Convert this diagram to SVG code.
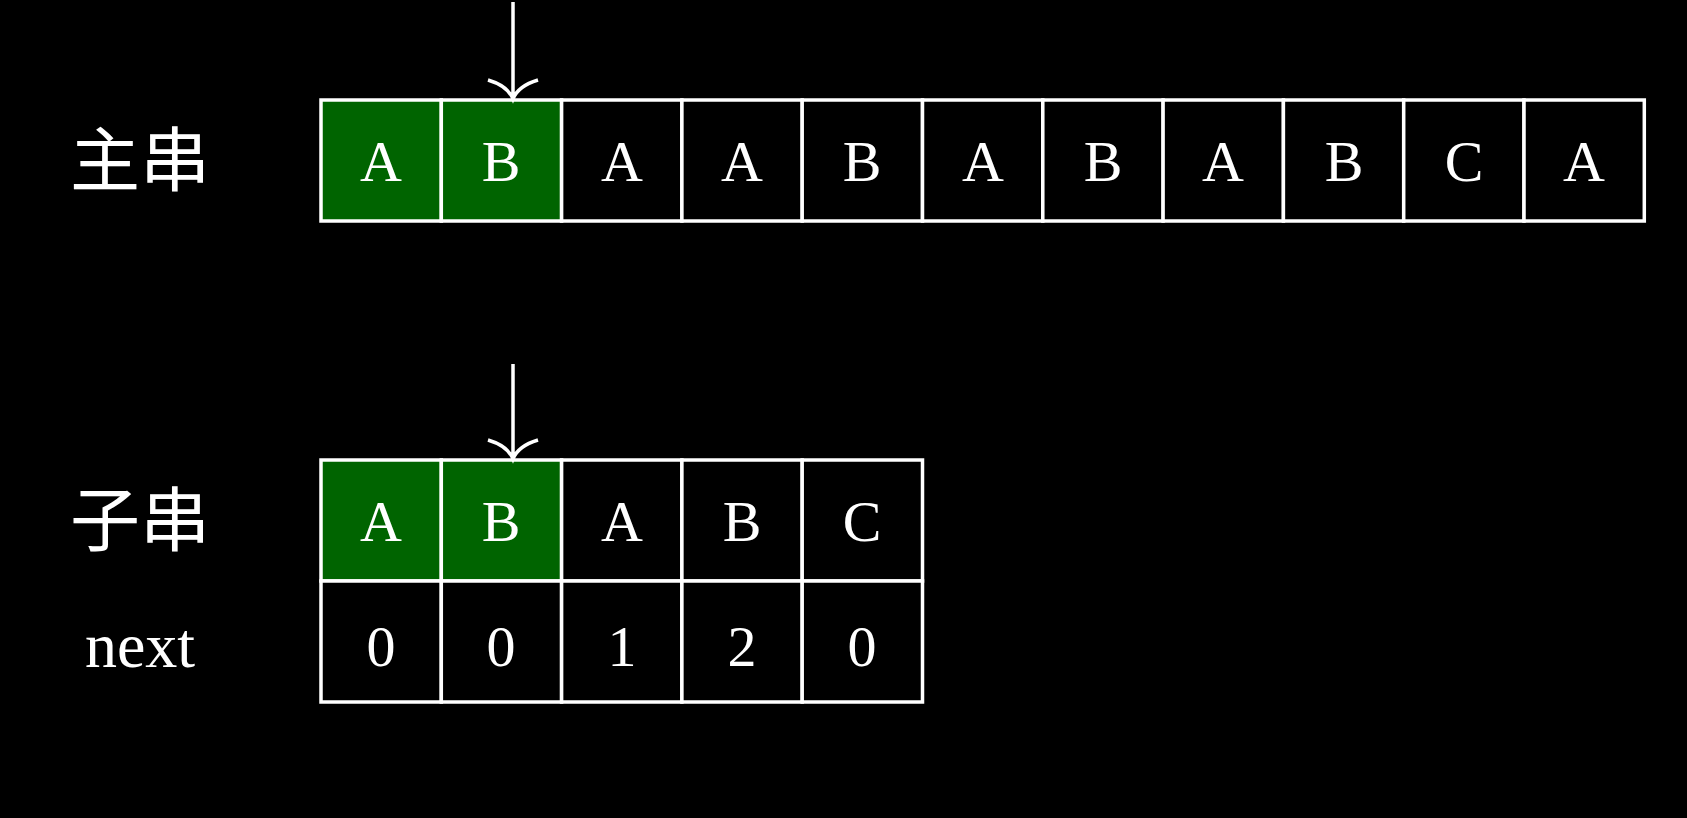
<svg xmlns="http://www.w3.org/2000/svg" width="1687" height="818" viewBox="0 0 1687 818">
<style>
.c{fill:#000;stroke:#fff;stroke-width:3.5}
.g{fill:#006400;stroke:#fff;stroke-width:3.5}
.t{fill:#fff;font-family:"Liberation Serif","DejaVu Serif",serif;font-size:58px;text-anchor:middle}
.l{fill:#fff;font-family:"Noto Sans CJK SC",sans-serif;font-size:70px;text-anchor:middle}
.a{stroke:#fff;stroke-width:3.5;fill:none}
</style>
<rect width="1687" height="818" fill="#000"/>
<g id="labels">
<text class="l" x="140" y="186">主串</text>
<text class="l" x="140" y="546">子串</text>
<text class="t" x="140" y="667" style="font-size:64px">next</text>
</g>
<g id="main">
<rect class="g" x="321" y="100" width="120.3" height="121"/><text class="t" x="381" y="181">A</text>
<rect class="g" x="441.3" y="100" width="120.3" height="121"/><text class="t" x="501" y="181">B</text>
<rect class="c" x="561.6" y="100" width="120.3" height="121"/><text class="t" x="622" y="181">A</text>
<rect class="c" x="681.9" y="100" width="120.3" height="121"/><text class="t" x="742" y="181">A</text>
<rect class="c" x="802.2" y="100" width="120.3" height="121"/><text class="t" x="862" y="181">B</text>
<rect class="c" x="922.5" y="100" width="120.3" height="121"/><text class="t" x="983" y="181">A</text>
<rect class="c" x="1042.8" y="100" width="120.3" height="121"/><text class="t" x="1103" y="181">B</text>
<rect class="c" x="1163.1" y="100" width="120.3" height="121"/><text class="t" x="1223" y="181">A</text>
<rect class="c" x="1283.4" y="100" width="120.3" height="121"/><text class="t" x="1344" y="181">B</text>
<rect class="c" x="1403.7" y="100" width="120.3" height="121"/><text class="t" x="1464" y="181">C</text>
<rect class="c" x="1524" y="100" width="120.3" height="121"/><text class="t" x="1584" y="181">A</text>
</g>
<g id="sub">
<rect class="g" x="321" y="460" width="120.3" height="121"/><text class="t" x="381" y="541">A</text>
<rect class="g" x="441.3" y="460" width="120.3" height="121"/><text class="t" x="501" y="541">B</text>
<rect class="c" x="561.6" y="460" width="120.3" height="121"/><text class="t" x="622" y="541">A</text>
<rect class="c" x="681.9" y="460" width="120.3" height="121"/><text class="t" x="742" y="541">B</text>
<rect class="c" x="802.2" y="460" width="120.3" height="121"/><text class="t" x="862" y="541">C</text>
</g>
<g id="next">
<rect class="c" x="321" y="581" width="120.3" height="121"/><text class="t" x="381" y="666">0</text>
<rect class="c" x="441.3" y="581" width="120.3" height="121"/><text class="t" x="501" y="666">0</text>
<rect class="c" x="561.6" y="581" width="120.3" height="121"/><text class="t" x="622" y="666">1</text>
<rect class="c" x="681.9" y="581" width="120.3" height="121"/><text class="t" x="742" y="666">2</text>
<rect class="c" x="802.2" y="581" width="120.3" height="121"/><text class="t" x="862" y="666">0</text>
</g>
<g id="connectors">
<path class="a" d="M513 2V99M488 80Q508 86 513 99Q518 86 538 80"/>
<path class="a" d="M513 364V459M488 440Q508 446 513 459Q518 446 538 440"/>
</g>
</svg>
